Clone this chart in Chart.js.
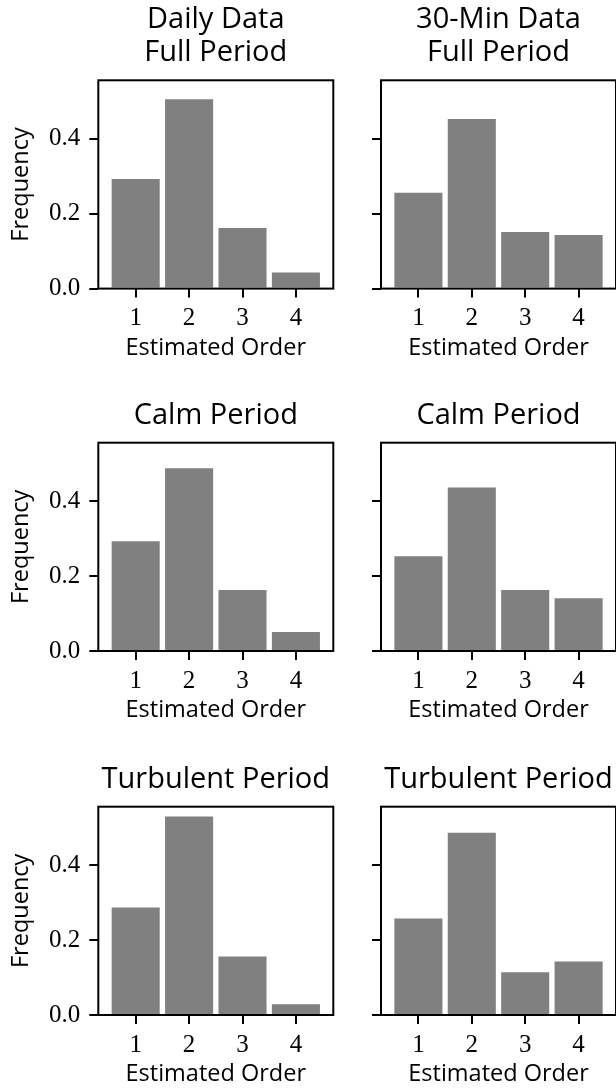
<!DOCTYPE html>
<html><head><meta charset="utf-8">
<script src="https://cdn.jsdelivr.net/npm/chart.js@4"></script>
<style>
html,body{margin:0;padding:0;background:#fff;overflow:hidden;}
#wrap{position:relative;width:616px;height:1091px;overflow:hidden;background:#fff;}
canvas{position:absolute;}
</style></head><body><div id="wrap"></div>
<script>
// ---- data ----
const orders = [1, 2, 3, 4];
const xTicks = [1, 2, 3, 4];
const yTicks = [0, 0.2, 0.4];
const dailyFull = [0.293, 0.506, 0.162, 0.043];
const min30Full = [0.256, 0.453, 0.151, 0.143];
const dailyCalm = [0.293, 0.488, 0.163, 0.051];
const min30Calm = [0.253, 0.437, 0.163, 0.141];
const dailyTurb = [0.287, 0.530, 0.156, 0.029];
const min30Turb = [0.258, 0.487, 0.114, 0.143];
const panelTitles = [["Daily Data", "Full Period"], ["30-Min Data", "Full Period"], "Calm Period", "Calm Period", "Turbulent Period", "Turbulent Period"];
const xLabel = "Estimated Order";
const yLabel = "Frequency";
const xMin = 0.3, xMax = 4.7, yMin = 0, yMax = 0.5565;

// ---- style / layout ----
const SANS = "'Open Sans', sans-serif";
const SERIF = "'Liberation Serif', serif";
const BAR = '#808080';
const TICK_SIZE = 25;
const TITLE_SIZE = 29, TITLE_LH = 33.3, TITLE_PADB = 10.5;
const PLOT_H = 208.3, XAXIS_H = 78;
const cols = [
  {left: 0, width: 340, axisW: 98.3, padRight: 6.7, labels: true},
  {left: 340, width: 276, axisW: 41, padRight: 0, labels: false}
];
const rows = [
  {top: 0, chartTop: 80.3},
  {top: 396, chartTop: 442.7},
  {top: 760, chartTop: 806.7}
];
const panels = [
  {values: dailyFull, title: panelTitles[0], r: 0, c: 0},
  {values: min30Full, title: panelTitles[1], r: 0, c: 1},
  {values: dailyCalm, title: panelTitles[2], r: 1, c: 0},
  {values: min30Calm, title: panelTitles[3], r: 1, c: 1},
  {values: dailyTurb, title: panelTitles[4], r: 2, c: 0},
  {values: min30Turb, title: panelTitles[5], r: 2, c: 1}
];

const frame = {
  id: 'frame',
  afterDatasetsDraw(chart) {
    const {ctx, chartArea: a} = chart;
    ctx.save();
    ctx.strokeStyle = '#000';
    ctx.lineWidth = 2;
    ctx.strokeRect(a.left, a.top, a.right - a.left, a.bottom - a.top);
    ctx.restore();
  }
};

const wrap = document.getElementById('wrap');
panels.forEach(p => {
  const col = cols[p.c], row = rows[p.r];
  const nLines = Array.isArray(p.title) ? p.title.length : 1;
  const head = row.chartTop - row.top;
  const padTop = head - nLines * TITLE_LH - TITLE_PADB;
  const H = Math.ceil(head + PLOT_H + XAXIS_H);
  const padBottom = H - head - PLOT_H - XAXIS_H;
  const c = document.createElement('canvas');
  c.width = col.width; c.height = H;
  c.style.left = col.left + 'px'; c.style.top = row.top + 'px';
  c.style.width = col.width + 'px'; c.style.height = H + 'px';
  wrap.appendChild(c);
  const gridOpts = {display: true, drawOnChartArea: false, drawTicks: true, tickLength: 9,
    tickWidth: 2, tickColor: '#000', color: '#000', lineWidth: 2, offset: false};
  new Chart(c, {
    type: 'bar',
    data: {datasets: [{
      data: orders.map((o, i) => ({x: o, y: p.values[i]})),
      backgroundColor: BAR, borderWidth: 0, barPercentage: 0.9, categoryPercentage: 1.0
    }]},
    options: {
      responsive: false, animation: false, devicePixelRatio: 1,
      layout: {padding: {top: 0, left: 0, right: col.padRight, bottom: padBottom}},
      plugins: {
        legend: {display: false}, tooltip: {enabled: false},
        title: {display: true, fullSize: false, text: p.title, color: '#000',
          font: {family: SANS, size: TITLE_SIZE, weight: 'normal', lineHeight: TITLE_LH / TITLE_SIZE},
          padding: {top: padTop, bottom: TITLE_PADB}}
      },
      scales: {
        x: {
          type: 'linear', min: xMin, max: xMax, offset: false,
          afterBuildTicks: s => { s.ticks = xTicks.map(v => ({value: v})); },
          afterFit: s => { s.height = XAXIS_H; },
          grid: gridOpts, border: {display: false},
          ticks: {color: '#000', font: {family: SERIF, size: TICK_SIZE}, padding: 6.3, maxRotation: 0, autoSkip: false,
            callback: v => String(v)},
          title: {display: true, text: xLabel, color: '#000', font: {family: SANS, size: 23.5, weight: 'normal'},
            padding: {top: 0, bottom: 4.4}}
        },
        y: {
          type: 'linear', min: yMin, max: yMax,
          afterBuildTicks: s => { s.ticks = yTicks.map(v => ({value: v})); },
          afterFit: s => { s.width = col.axisW; },
          grid: gridOpts, border: {display: false},
          ticks: {display: col.labels, color: '#000', font: {family: SERIF, size: TICK_SIZE}, padding: 9,
            callback: v => v.toFixed(1)},
          title: {display: col.labels, text: yLabel, color: '#000', font: {family: SANS, size: 23.5, weight: 'normal'},
            padding: {top: 7, bottom: 0}}
        }
      }
    },
    plugins: [frame]
  });
});
</script>
</body></html>
